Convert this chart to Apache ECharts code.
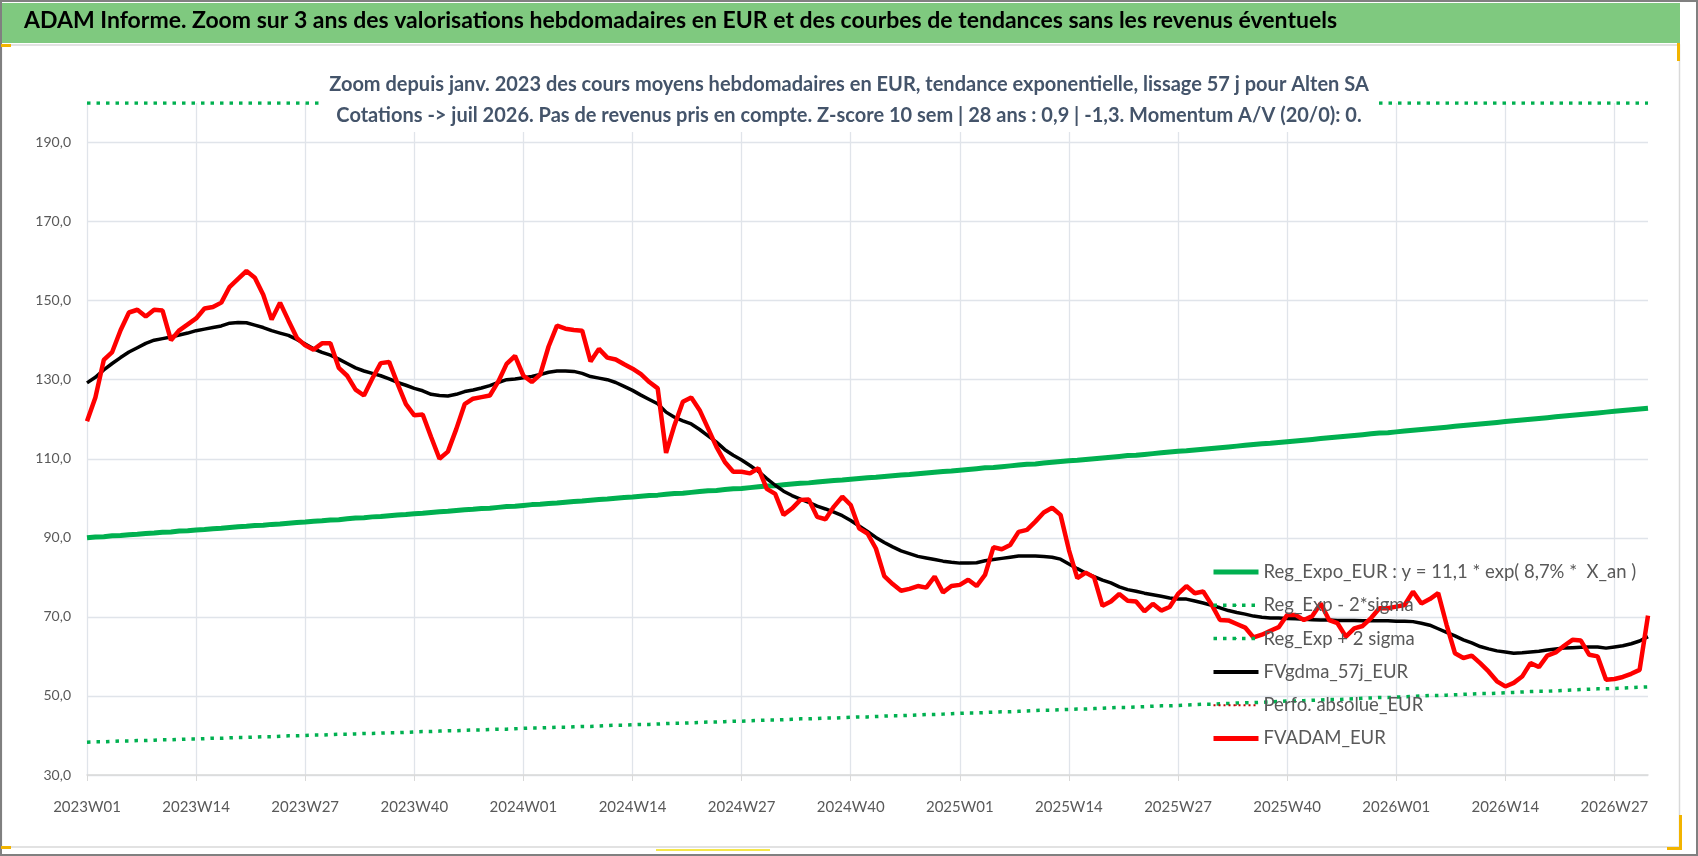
<!DOCTYPE html>
<html>
<head>
<meta charset="utf-8">
<script src="https://cdn.jsdelivr.net/npm/echarts@6/dist/echarts.min.js"></script>
<style>
  html, body { margin: 0; padding: 0; background: #fff; }
  #chart { width: 1698px; height: 856px; }
</style>
</head>
<body>
<div id="chart"></div>
<script>
// categories: semaines ISO 2023W01 -> 2026W31
var categories = [];
for (var yr = 2023; yr <= 2026; yr++) {
    for (var wk = 1; wk <= 52; wk++) {
        if (yr === 2026 && wk > 31) break;
        categories.push(yr + 'W' + (wk < 10 ? '0' + wk : wk));
    }
}

var seriesNames = [
    'Reg_Expo_EUR : y = 11,1 * exp( 8,7% *  X_an )',
    'Reg_Exp - 2*sigma',
    'Reg_Exp + 2 sigma',
    'FVgdma_57j_EUR',
    'Perfo. absolue_EUR',
    'FVADAM_EUR'
];

var regExpo = [
    90.0, 90.2, 90.3, 90.5, 90.6, 90.8, 90.9, 91.1, 91.2, 91.4,
    91.5, 91.7, 91.8, 92.0, 92.1, 92.3, 92.4, 92.6, 92.8, 92.9,
    93.1, 93.2, 93.4, 93.5, 93.7, 93.9, 94.0, 94.2, 94.3, 94.5,
    94.6, 94.8, 95.0, 95.1, 95.3, 95.4, 95.6, 95.8, 95.9, 96.1,
    96.2, 96.4, 96.6, 96.7, 96.9, 97.1, 97.2, 97.4, 97.5, 97.7,
    97.9, 98.0, 98.2, 98.4, 98.5, 98.7, 98.8, 99.0, 99.2, 99.3,
    99.5, 99.7, 99.8, 100.0, 100.2, 100.3, 100.5, 100.7, 100.8, 101.0,
    101.2, 101.3, 101.5, 101.7, 101.9, 102.0, 102.2, 102.4, 102.5, 102.7,
    102.9, 103.1, 103.2, 103.4, 103.6, 103.8, 103.9, 104.1, 104.3, 104.5,
    104.6, 104.8, 105.0, 105.2, 105.3, 105.5, 105.7, 105.9, 106.0, 106.2,
    106.4, 106.6, 106.8, 106.9, 107.1, 107.3, 107.5, 107.7, 107.8, 108.0,
    108.2, 108.4, 108.6, 108.7, 108.9, 109.1, 109.3, 109.5, 109.6, 109.8,
    110.0, 110.2, 110.4, 110.6, 110.8, 110.9, 111.1, 111.3, 111.5, 111.7,
    111.9, 112.0, 112.2, 112.4, 112.6, 112.8, 113.0, 113.2, 113.4, 113.6,
    113.8, 113.9, 114.1, 114.3, 114.5, 114.7, 114.9, 115.1, 115.3, 115.5,
    115.7, 115.9, 116.1, 116.3, 116.5, 116.6, 116.8, 117.0, 117.2, 117.4,
    117.6, 117.8, 118.0, 118.2, 118.4, 118.6, 118.8, 119.0, 119.2, 119.4,
    119.6, 119.8, 120.0, 120.2, 120.4, 120.6, 120.8, 121.0, 121.2, 121.4,
    121.6, 121.8, 122.0, 122.2, 122.4, 122.6, 122.8
];

var regMinus2 = [
    38.3, 38.4, 38.4, 38.5, 38.6, 38.6, 38.7, 38.7, 38.8, 38.9,
    38.9, 39.0, 39.1, 39.1, 39.2, 39.3, 39.3, 39.4, 39.5, 39.5,
    39.6, 39.7, 39.7, 39.8, 39.9, 39.9, 40.0, 40.1, 40.1, 40.2,
    40.3, 40.3, 40.4, 40.5, 40.5, 40.6, 40.7, 40.7, 40.8, 40.9,
    41.0, 41.0, 41.1, 41.2, 41.2, 41.3, 41.4, 41.4, 41.5, 41.6,
    41.6, 41.7, 41.8, 41.9, 41.9, 42.0, 42.1, 42.1, 42.2, 42.3,
    42.3, 42.4, 42.5, 42.6, 42.6, 42.7, 42.8, 42.8, 42.9, 43.0,
    43.1, 43.1, 43.2, 43.3, 43.4, 43.4, 43.5, 43.6, 43.6, 43.7,
    43.8, 43.9, 43.9, 44.0, 44.1, 44.2, 44.2, 44.3, 44.4, 44.4,
    44.5, 44.6, 44.7, 44.7, 44.8, 44.9, 45.0, 45.0, 45.1, 45.2,
    45.3, 45.3, 45.4, 45.5, 45.6, 45.7, 45.7, 45.8, 45.9, 46.0,
    46.0, 46.1, 46.2, 46.3, 46.4, 46.4, 46.5, 46.6, 46.7, 46.7,
    46.8, 46.9, 47.0, 47.1, 47.1, 47.2, 47.3, 47.4, 47.5, 47.5,
    47.6, 47.7, 47.8, 47.9, 47.9, 48.0, 48.1, 48.2, 48.3, 48.3,
    48.4, 48.5, 48.6, 48.7, 48.7, 48.8, 48.9, 49.0, 49.1, 49.1,
    49.2, 49.3, 49.4, 49.5, 49.6, 49.6, 49.7, 49.8, 49.9, 50.0,
    50.1, 50.1, 50.2, 50.3, 50.4, 50.5, 50.6, 50.6, 50.7, 50.8,
    50.9, 51.0, 51.1, 51.2, 51.2, 51.3, 51.4, 51.5, 51.6, 51.7,
    51.8, 51.8, 51.9, 52.0, 52.1, 52.2, 52.3
];

// au-dessus du max de l'axe : la courbe reste collee au bord haut (200)
var regPlus2 = [
    200, 200, 200, 200, 200, 200, 200, 200, 200, 200,
    200, 200, 200, 200, 200, 200, 200, 200, 200, 200,
    200, 200, 200, 200, 200, 200, 200, 200, 200, 200,
    200, 200, 200, 200, 200, 200, 200, 200, 200, 200,
    200, 200, 200, 200, 200, 200, 200, 200, 200, 200,
    200, 200, 200, 200, 200, 200, 200, 200, 200, 200,
    200, 200, 200, 200, 200, 200, 200, 200, 200, 200,
    200, 200, 200, 200, 200, 200, 200, 200, 200, 200,
    200, 200, 200, 200, 200, 200, 200, 200, 200, 200,
    200, 200, 200, 200, 200, 200, 200, 200, 200, 200,
    200, 200, 200, 200, 200, 200, 200, 200, 200, 200,
    200, 200, 200, 200, 200, 200, 200, 200, 200, 200,
    200, 200, 200, 200, 200, 200, 200, 200, 200, 200,
    200, 200, 200, 200, 200, 200, 200, 200, 200, 200,
    200, 200, 200, 200, 200, 200, 200, 200, 200, 200,
    200, 200, 200, 200, 200, 200, 200, 200, 200, 200,
    200, 200, 200, 200, 200, 200, 200, 200, 200, 200,
    200, 200, 200, 200, 200, 200, 200, 200, 200, 200,
    200, 200, 200, 200, 200, 200, 200
];

var fvgdma = [
    129.2, 130.6, 132.5, 134.1, 135.6, 137.0, 138.1, 139.2, 140.0, 140.4,
    140.8, 141.3, 141.8, 142.4, 142.8, 143.2, 143.6, 144.3, 144.5, 144.4,
    143.8, 143.2, 142.4, 141.8, 141.2, 140.2, 139.0, 137.8, 136.9, 136.2,
    135.2, 134.1, 133.0, 132.2, 131.6, 131.0, 130.2, 129.3, 128.6, 127.8,
    127.2, 126.3, 126.0, 125.9, 126.3, 127.0, 127.4, 127.9, 128.5, 129.3,
    130.0, 130.2, 130.5, 130.8, 131.3, 131.9, 132.2, 132.2, 132.1, 131.6,
    130.8, 130.4, 130.0, 129.3, 128.3, 127.3, 126.1, 125.0, 123.9, 121.8,
    120.5, 119.6, 118.8, 117.4, 115.8, 114.2, 112.3, 110.9, 109.7, 108.3,
    106.8, 105.0, 103.3, 101.8, 100.7, 99.8, 99.0, 98.0, 97.3, 96.5,
    95.6, 94.4, 93.0, 91.6, 90.1, 88.8, 87.7, 86.7, 86.0, 85.3,
    84.9, 84.5, 84.1, 83.8, 83.6, 83.6, 83.7, 84.2, 84.5, 84.8,
    85.1, 85.4, 85.4, 85.4, 85.3, 85.1, 84.6, 83.4, 82.2, 81.1,
    80.2, 79.3, 78.6, 77.6, 76.9, 76.5, 76.0, 75.6, 75.2, 74.8,
    74.5, 74.5, 74.0, 73.5, 72.9, 72.3, 71.6, 71.1, 70.7, 70.2,
    69.9, 69.7, 69.7, 69.6, 69.5, 69.4, 69.3, 69.2, 69.2, 69.1,
    69.1, 69.1, 69.0, 69.0, 69.0, 69.0, 68.9, 68.9, 68.8, 68.4,
    67.9, 67.0, 66.1, 65.2, 64.2, 63.4, 62.5, 61.9, 61.4, 61.1,
    60.8, 60.9, 61.1, 61.3, 61.6, 61.9, 62.1, 62.2, 62.3, 62.4,
    62.4, 62.1, 62.4, 62.7, 63.2, 63.9, 65.0
];

var perfoAbsolue = [];

var fvadam = [
    119.5, 125.5, 135.0, 137.0, 142.5, 147.0, 147.7, 146.0, 147.7, 147.5,
    140.0, 142.5, 144.0, 145.5, 148.0, 148.4, 149.5, 153.5, 155.5, 157.5,
    155.8, 151.5, 145.2, 149.5, 145.0, 140.6, 138.7, 137.6, 139.2, 139.2,
    133.0, 131.0, 127.5, 126.0, 130.3, 134.2, 134.5, 129.0, 123.8, 121.0,
    121.2, 115.5, 110.0, 111.8, 117.5, 123.8, 125.2, 125.6, 126.0, 129.5,
    134.0, 136.0, 131.0, 129.4, 131.3, 138.4, 143.7, 142.9, 142.6, 142.4,
    134.6, 137.8, 135.6, 135.1, 133.9, 132.8, 131.4, 129.4, 127.8, 111.5,
    118.5, 124.4, 125.5, 122.3, 117.7, 113.0, 109.2, 106.7, 106.7, 106.3,
    107.6, 102.4, 101.1, 95.8, 97.4, 99.6, 99.7, 95.3, 94.7, 97.9,
    100.4, 98.3, 92.4, 91.1, 87.3, 80.3, 78.3, 76.6, 77.1, 77.8,
    77.4, 80.2, 76.2, 77.8, 78.1, 79.4, 77.8, 80.6, 87.6, 87.1,
    88.2, 91.5, 92.0, 94.1, 96.4, 97.6, 95.8, 86.9, 79.8, 81.2,
    80.0, 72.8, 73.9, 75.8, 74.1, 73.9, 71.4, 73.3, 71.6, 72.5,
    75.8, 77.8, 76.0, 76.4, 73.1, 69.2, 69.1, 68.2, 67.3, 64.8,
    65.5, 66.5, 67.4, 70.5, 70.5, 69.2, 70.2, 73.4, 69.2, 68.4,
    65.0, 67.1, 67.7, 69.7, 72.2, 72.2, 72.6, 73.0, 76.4, 73.4,
    74.5, 76.0, 68.0, 60.8, 59.6, 60.2, 58.3, 56.2, 53.7, 52.4,
    53.3, 54.9, 58.3, 57.3, 60.2, 61.0, 62.7, 64.2, 64.0, 60.4,
    60.0, 54.1, 54.3, 54.8, 55.6, 56.6, 70.3
];

var mainTitle = 'ADAM Informe. Zoom sur 3 ans des valorisations hebdomadaires en EUR et des courbes de tendances sans les revenus éventuels';
var subTitle1 = 'Zoom depuis janv. 2023 des cours moyens hebdomadaires en EUR, tendance exponentielle, lissage 57 j pour Alten SA';
var subTitle2 = 'Cotations -> juil 2026. Pas de revenus pris en compte. Z-score 10 sem | 28 ans : 0,9 | -1,3. Momentum A/V (20/0): 0.';

var FONT = "Lato, 'Noto Sans', sans-serif";
var GREEN = '#00b050';
var GRID_COLOR = '#e0e4ea';

var chart = echarts.init(document.getElementById('chart'));

var option = {
    backgroundColor: '#fff',
    animation: false,
    graphic: [
        { type: 'rect', z: 0, shape: { x: 0, y: 3, width: 1680, height: 40 }, style: { fill: '#7fc97f' } },
        { type: 'rect', z: 0, shape: { x: 1.5, y: 45, width: 1678, height: 802 }, style: { fill: 'none', stroke: '#d9d9d9', lineWidth: 1.5 } },
        { type: 'rect', z: 0, shape: { x: 1, y: 1, width: 1696, height: 854 }, style: { fill: 'none', stroke: '#808080', lineWidth: 2 } },
        { type: 'rect', z: 1, shape: { x: 1, y: 44, width: 10, height: 3 }, style: { fill: '#f2b400' } },
        { type: 'rect', z: 1, shape: { x: 1, y: 846, width: 10, height: 3 }, style: { fill: '#f2b400' } },
        { type: 'rect', z: 1, shape: { x: 656, y: 849, width: 114, height: 2 }, style: { fill: '#f5e74a' } },
        { type: 'rect', z: 1, shape: { x: 1677, y: 43, width: 3, height: 18 }, style: { fill: '#f2b400' } },
        { type: 'rect', z: 1, shape: { x: 1679, y: 815, width: 3, height: 35 }, style: { fill: '#f2b400' } },
        { type: 'rect', z: 1, shape: { x: 1667, y: 847, width: 15, height: 3 }, style: { fill: '#f2b400' } }
    ],
    title: [
        {
            text: mainTitle,
            left: 24,
            top: 9,
            padding: 0,
            textStyle: { fontFamily: FONT, fontSize: 23, fontWeight: 'bold', color: '#000' }
        },
        {
            text: subTitle1 + '\n' + subTitle2,
            left: 'center',
            top: 68,
            padding: [1, 6, 1, 6],
            backgroundColor: '#fff',
            z: 10,
            textStyle: { fontFamily: FONT, fontSize: 20, fontWeight: 'bold', color: '#44546a', lineHeight: 31, align: 'center' }
        }
    ],
    legend: {
        orient: 'vertical',
        left: 1206,
        top: 557,
        itemWidth: 45,
        itemHeight: 2,
        itemGap: 13.3,
        textStyle: { fontFamily: FONT, fontSize: 18.5, color: '#595959', lineHeight: 20 },
        data: [
            { name: seriesNames[0], lineStyle: { width: 5 } },
            { name: seriesNames[1], lineStyle: { width: 3.5 } },
            { name: seriesNames[2], lineStyle: { width: 3.5 } },
            { name: seriesNames[3], lineStyle: { width: 4 } },
            { name: seriesNames[4], lineStyle: { width: 2 } },
            { name: seriesNames[5], lineStyle: { width: 5 } }
        ]
    },
    grid: { left: 87, right: 50, top: 103, bottom: 81 },
    xAxis: {
        type: 'category',
        data: categories,
        boundaryGap: false,
        axisLine: { lineStyle: { color: '#d9d9d9', width: 1.5 } },
        axisTick: { show: true, interval: 12, length: 6, lineStyle: { color: '#d9d9d9' } },
        axisLabel: { interval: 12, margin: 25, color: '#595959', fontFamily: FONT, fontSize: 15 },
        splitLine: { show: true, interval: 12, lineStyle: { color: GRID_COLOR, width: 1.3 } }
    },
    yAxis: {
        type: 'value',
        min: 30,
        max: 200,
        interval: 20,
        axisLine: { show: false },
        axisTick: { show: false },
        axisLabel: {
            showMaxLabel: false,
            margin: 16,
            color: '#595959',
            fontFamily: FONT,
            fontSize: 14,
            formatter: function (v) { return v.toFixed(1).replace('.', ','); }
        },
        splitLine: { showMaxLine: false, lineStyle: { color: GRID_COLOR, width: 1.3 } }
    },
    series: [
        {
            name: seriesNames[0], type: 'line', data: regExpo, symbol: 'none',
            lineStyle: { color: GREEN, width: 5 }, itemStyle: { color: GREEN }
        },
        {
            name: seriesNames[1], type: 'line', data: regMinus2, symbol: 'none',
            lineStyle: { color: GREEN, width: 3.5, type: [3.5, 6] }, itemStyle: { color: GREEN }
        },
        {
            name: seriesNames[2], type: 'line', data: regPlus2, symbol: 'none',
            lineStyle: { color: GREEN, width: 3.5, type: [3.5, 6] }, itemStyle: { color: GREEN }
        },
        {
            name: seriesNames[3], type: 'line', data: fvgdma, symbol: 'none',
            lineStyle: { color: '#000', width: 3.5 }, itemStyle: { color: '#000' }
        },
        {
            name: seriesNames[4], type: 'line', data: perfoAbsolue, symbol: 'none',
            lineStyle: { color: '#c00000', width: 2, type: [2, 3] }, itemStyle: { color: '#c00000' }
        },
        {
            name: seriesNames[5], type: 'line', data: fvadam, symbol: 'none',
            lineStyle: { color: '#ff0000', width: 4.5 }, itemStyle: { color: '#ff0000' }
        }
    ]
};

chart.setOption(option);
</script>
</body>
</html>
